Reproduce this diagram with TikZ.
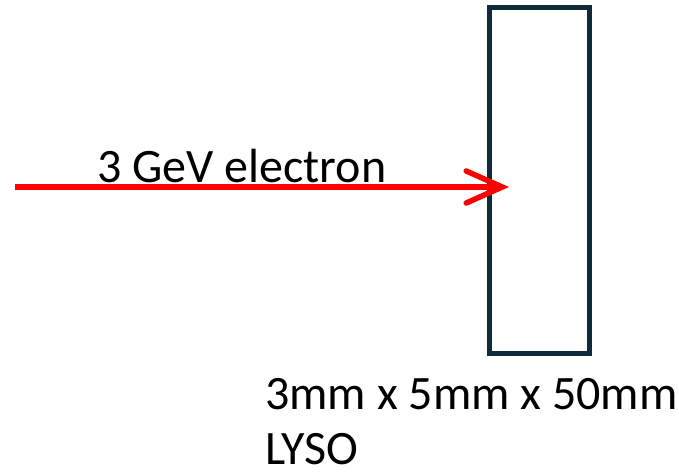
\documentclass[tikz,border=0pt]{standalone}
\usepackage{fontspec}
\setmainfont{Carlito}
\usepackage{xcolor}
\usetikzlibrary{positioning,arrows.meta}
\definecolor{crystalblue}{HTML}{0F2A3A}

\begin{document}
\begin{tikzpicture}[x=1pt, y=-1pt,
    crystal/.style={draw=crystalblue, line width=5pt, minimum width=100pt, minimum height=345.5pt, inner sep=0pt},
    label/.style={font=\fontsize{48}{55}\selectfont, inner sep=0pt, align=left},
    beam/.style={draw=red, line width=5.5pt, -{Straight Barb[length=36pt, width=32pt, line width=5.5pt, line cap=round]}}
]
    \useasboundingbox (0,0) rectangle (679,475);

    % LYSO crystal
    \node[crystal] (lyso) at (539.5,180.25) {};
    \node[label, anchor=north west] (dims) at (265,378) {3mm x 5mm x 50mm\\LYSO};

    % incoming electron
    \coordinate (src) at (15,187);
    \coordinate (hit) at (509,187);
    \node[label, anchor=base west] (elabel) at (97,182) {3 GeV electron};
    \draw[beam] (src) -- (hit);

\end{tikzpicture}
\end{document}
